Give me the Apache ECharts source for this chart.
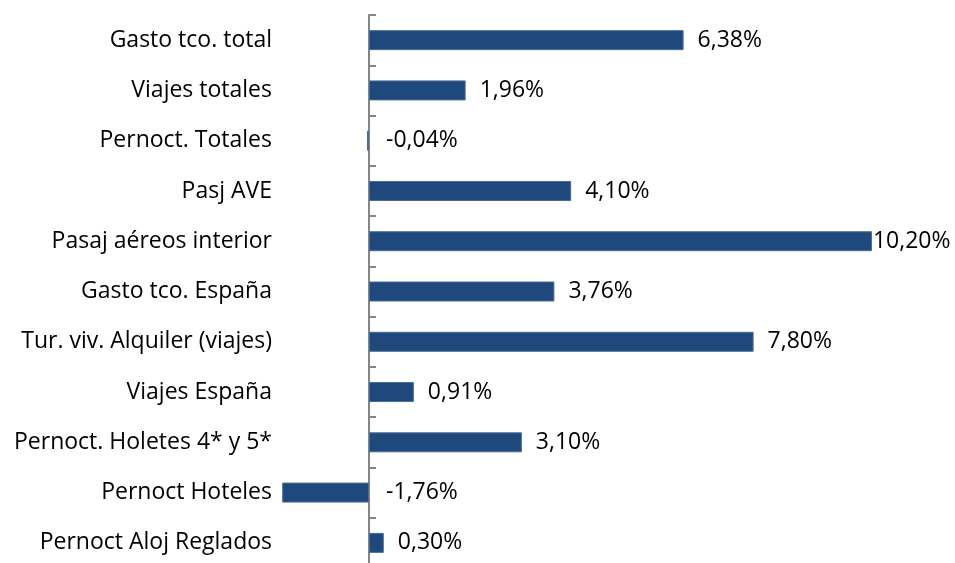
<!DOCTYPE html>
<html>
<head>
<meta charset="utf-8">
<script src="https://cdn.jsdelivr.net/npm/echarts@6/dist/echarts.min.js"></script>
<style>
  html, body { margin: 0; padding: 0; background: #fff; }
  #chart { width: 955px; height: 563px; }
</style>
</head>
<body>
<div id="chart"></div>
<script>
// categorias, de arriba a abajo
var categories = [
    'Gasto tco. total',
    'Viajes totales',
    'Pernoct. Totales',
    'Pasj AVE',
    'Pasaj aéreos interior',
    'Gasto tco. España',
    'Tur. viv. Alquiler (viajes)',
    'Viajes España',
    'Pernoct. Holetes 4* y 5*',
    'Pernoct Hoteles',
    'Pernoct Aloj Reglados'
];
var values = [6.38, 1.96, -0.04, 4.10, 10.20, 3.76, 7.80, 0.91, 3.10, -1.76, 0.30];

var barColor = '#1f497d';
var font = 'Open Sans';
var fontSize = 23;

var chart = echarts.init(document.getElementById('chart'));

var data = [];
for (var i = 0; i < values.length; i++) {
    var item = { value: values[i] };
    if (values[i] < 0) {
        // etiqueta a la derecha del eje
        item.label = { distance: 17 };
    }
    if (values[i] >= 10) {
        item.label = { distance: 1 };
    }
    data.push(item);
}

var option = {
    animation: false,
    grid: {
        left: 369,
        right: 43.6,
        top: 15,
        height: 553,
        outerBoundsMode: 'none'
    },
    xAxis: {
        type: 'value',
        min: 0,
        max: 11,
        show: false
    },
    yAxis: {
        type: 'category',
        inverse: true,
        data: categories,
        axisLine: { show: true, lineStyle: { color: '#868686', width: 2 } },
        axisTick: { show: true, inside: true, length: 7, alignWithLabel: false, lineStyle: { color: '#868686', width: 2 } },
        axisLabel: {
            margin: 97,
            color: '#000',
            fontFamily: font,
            fontSize: fontSize
        }
    },
    series: [
        {
            type: 'bar',
            data: data,
            barWidth: 20,
            clip: false,
            z: 1,
            itemStyle: { color: barColor, borderColor: '#4a6c98', borderWidth: 1 },
            label: {
                show: true,
                position: 'right',
                distance: 14,
                color: '#000',
                fontFamily: font,
                fontSize: fontSize,
                formatter: function (p) {
                    return p.value.toFixed(2).replace('.', ',') + '%';
                }
            }
        }
    ]
};
chart.setOption(option);
</script>
</body>
</html>
